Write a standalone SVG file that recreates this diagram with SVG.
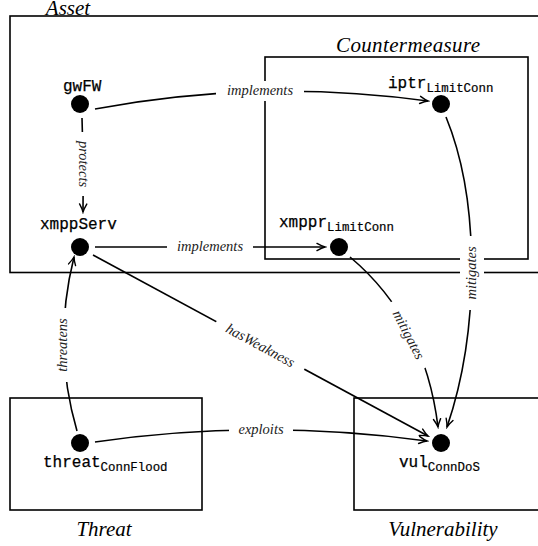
<svg xmlns="http://www.w3.org/2000/svg" width="538" height="546" viewBox="0 0 538 546">
<style>
.box{fill:none;stroke:#000;stroke-width:1.6}
.cat{font-style:italic;font-size:21px;fill:#000}
.edge{fill:none;stroke:#000;stroke-width:1.6;marker-end:url(#arr)}
.lbl{font-style:italic;font-size:14.5px;fill:#222;text-anchor:middle}
.gap{fill:#fff;stroke:none}
.dot{fill:#000}
.nl{font-size:16px;fill:#000;stroke:#000;stroke-width:0.25}
.sub{font-size:12.4px;stroke-width:0.2}
</style>
<defs>
<marker id="arr" viewBox="-10 -5 12 10" refX="0" refY="0" markerWidth="12" markerHeight="10" markerUnits="userSpaceOnUse" orient="auto">
<path d="M -8 -3.6 Q -3 -0.8 0 0 Q -3 0.8 -8 3.6" fill="none" stroke="#000" stroke-width="1.4" stroke-linecap="round"/>
</marker>
</defs>
<rect width="538" height="546" fill="#fff"/>
<g id="containers" font-family="'Liberation Serif', 'Times New Roman', serif">
<rect class="box" x="10" y="16" width="540" height="256.5"/>
<text class="cat" x="68" y="15" text-anchor="middle">Asset</text>
<rect class="box" x="265" y="57" width="263" height="202"/>
<text class="cat" x="408" y="52" text-anchor="middle" textLength="144">Countermeasure</text>
<rect class="box" x="10" y="398" width="192" height="112"/>
<text class="cat" x="104" y="536" text-anchor="middle">Threat</text>
<rect class="box" x="354" y="398" width="200" height="112"/>
<text class="cat" x="443" y="536" text-anchor="middle">Vulnerability</text>
</g>
<g id="connectors" font-family="'Liberation Serif', 'Times New Roman', serif">
<path class="edge" d="M 95 109 Q 260 78 428 101"/>
<path class="edge" d="M 82 118 Q 84 165 83 212"/>
<path class="edge" d="M 95 247 L 325 247"/>
<path class="edge" d="M 93 255 L 428 436"/>
<path class="edge" d="M 77 431 Q 52 345 74 257"/>
<path class="edge" d="M 95 442 Q 260 418 427 441"/>
<path class="edge" d="M 350 257 Q 425 320 438 427"/>
<path class="edge" d="M 446 117 C 480 200 480 330 447 427"/>
<g transform="translate(260,91)"><rect class="gap" x="-44" y="-10" width="88" height="20"/><text class="lbl" x="0" y="4">implements</text></g>
<g transform="translate(83,164) rotate(90)"><rect class="gap" x="-32" y="-11" width="64" height="22"/><text class="lbl" x="0" y="4">protects</text></g>
<g transform="translate(210,247)"><rect class="gap" x="-43" y="-10" width="86" height="20"/><text class="lbl" x="0" y="4">implements</text></g>
<g transform="translate(260,346) rotate(28.4)"><rect class="gap" x="-50" y="-11" width="100" height="22"/><text class="lbl" x="0" y="4">hasWeakness</text></g>
<g transform="translate(63,345) rotate(-90)"><rect class="gap" x="-37" y="-11" width="74" height="22"/><text class="lbl" x="0" y="4">threatens</text></g>
<g transform="translate(261,430)"><rect class="gap" x="-32" y="-10" width="64" height="20"/><text class="lbl" x="0" y="4">exploits</text></g>
<g transform="translate(408,335) rotate(62.6)"><rect class="gap" x="-37" y="-11" width="74" height="22"/><text class="lbl" x="0" y="4">mitigates</text></g>
<g transform="translate(472,273) rotate(-90)"><rect class="gap" x="-37" y="-12" width="74" height="24"/><text class="lbl" x="0" y="4">mitigates</text></g>
</g>
<g font-family="'Liberation Mono', 'Courier New', monospace">
<g id="gwFW"><circle class="dot" cx="80" cy="104" r="9"/><text class="nl" x="63" y="91">gwFW</text></g>
<g id="iptr"><circle class="dot" cx="441" cy="104" r="9"/><text class="nl" x="388" y="88">iptr<tspan class="sub" dy="4">LimitConn</tspan></text></g>
<g id="xmppServ"><circle class="dot" cx="80" cy="247" r="9"/><text class="nl" x="40" y="229">xmppServ</text></g>
<g id="xmppr"><circle class="dot" cx="339" cy="247" r="9"/><text class="nl" x="279" y="227">xmppr<tspan class="sub" dy="4">LimitConn</tspan></text></g>
<g id="threat"><circle class="dot" cx="80" cy="443" r="9"/><text class="nl" x="43" y="467">threat<tspan class="sub" dy="4">ConnFlood</tspan></text></g>
<g id="vul"><circle class="dot" cx="441" cy="443" r="9"/><text class="nl" x="399" y="467">vul<tspan class="sub" dy="4">ConnDoS</tspan></text></g>
</g>
</svg>
